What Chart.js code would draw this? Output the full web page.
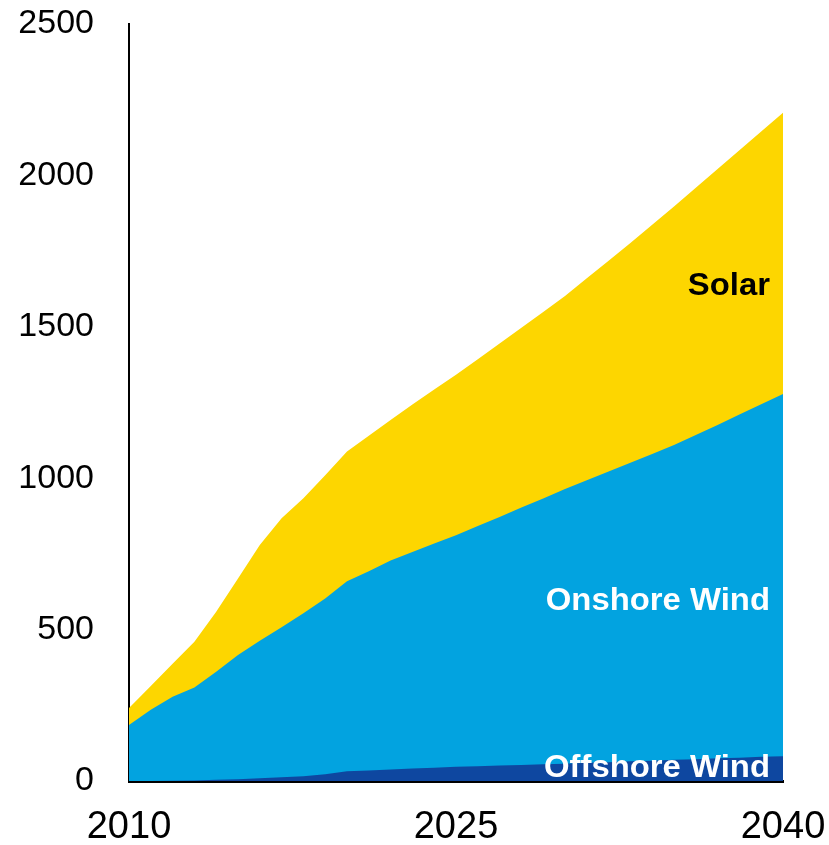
<!DOCTYPE html>
<html>
<head>
<meta charset="utf-8">
<script src="https://cdn.jsdelivr.net/npm/chart.js@4.4.1/dist/chart.umd.min.js"></script>
<style>
  html, body { margin: 0; padding: 0; background: #fff; }
  #wrap { width: 829px; height: 845px; }
</style>
</head>
<body>
<div id="wrap"><canvas id="chart"></canvas></div>
<script>
// years on the x axis, only these three get a label
const years = [];
for (let y = 2010; y <= 2040; y++) years.push(String(y));
const tickYears = ['2010', '2025', '2040'];
const yTicks = [0, 500, 1000, 1500, 2000, 2500];

// capacity per technology (stacked)
const offshoreWind = [0, 0, 1, 2, 4, 6, 9, 12, 16, 22, 32, 35, 38, 41, 44, 47,
  49, 51, 53, 55, 57, 60, 62, 65, 67, 70, 72, 75, 77, 80, 82];
const onshoreWind = [185, 235, 277, 307, 357, 410, 454, 496, 538, 581, 628, 658, 690, 715, 740, 765,
  793, 821, 850, 878, 907, 933, 960, 986, 1013, 1040, 1071, 1101, 1133, 1164, 1196];
const solar = [56, 79, 109, 151, 198, 253, 316, 360, 380, 407, 428, 447, 464, 487, 509, 530,
  551, 573, 594, 616, 638, 667, 696, 726, 757, 787, 816, 845, 873, 901, 929];

const seriesLabels = [
  { text: 'Solar', value: 1633, color: '#000' },
  { text: 'Onshore Wind', value: 594, color: '#fff' },
  { text: 'Offshore Wind', value: 41, color: '#fff' }
];

// labels sit inside the areas, right aligned, slightly wide like the original
const areaLabels = {
  id: 'areaLabels',
  afterDatasetsDraw(chart) {
    const { ctx, chartArea, scales } = chart;
    const sx = 1.06;
    ctx.save();
    ctx.font = 'bold 31px "Liberation Sans", Arial, sans-serif';
    ctx.textAlign = 'right';
    ctx.textBaseline = 'middle';
    seriesLabels.forEach(l => {
      ctx.save();
      ctx.translate(chartArea.right - 13, scales.y.getPixelForValue(l.value));
      ctx.scale(sx, 1);
      ctx.fillStyle = l.color;
      ctx.fillText(l.text, 0, 0);
      ctx.restore();
    });
    ctx.restore();
  }
};

const area = (label, data, color) => ({
  label, data,
  backgroundColor: color,
  borderWidth: 0,
  pointRadius: 0,
  tension: 0,
  fill: true
});

new Chart(document.getElementById('chart'), {
  type: 'line',
  data: {
    labels: years,
    datasets: [
      area('Offshore Wind', offshoreWind, '#0E47A0'),
      area('Onshore Wind', onshoreWind, '#02A3E0'),
      area('Solar', solar, '#FDD600')
    ]
  },
  options: {
    responsive: true,
    maintainAspectRatio: false,
    animation: false,
    layout: { padding: { top: 24, right: 46, left: 0, bottom: 0 } },
    plugins: { legend: { display: false }, tooltip: { enabled: false } },
    scales: {
      x: {
        offset: false,
        grid: { display: false, drawTicks: false },
        border: { color: '#000', width: 3 },
        ticks: {
          autoSkip: false,
          maxRotation: 0,
          color: '#000',
          padding: 24,
          font: { family: '"Liberation Sans", Arial, sans-serif', size: 38 },
          callback(v) {
            const lab = this.getLabelForValue(v);
            return tickYears.includes(lab) ? lab : '';
          }
        },
        afterFit(scale) {
          scale.height = 64;
          scale.paddingLeft = 0;
          scale.paddingRight = 0;
        }
      },
      y: {
        stacked: true,
        min: 0,
        max: 2500,
        grid: { display: false, drawTicks: false },
        border: { color: '#000', width: 2 },
        afterBuildTicks(scale) { scale.ticks = yTicks.map(v => ({ value: v })); },
        ticks: {
          color: '#000',
          padding: 35,
          font: { family: '"Liberation Sans", Arial, sans-serif', size: 34 },
          callback: v => String(v)
        },
        afterFit(scale) {
          scale.width = 129;
          scale.paddingTop = 0;
          scale.paddingBottom = 0;
        }
      }
    }
  },
  plugins: [areaLabels]
});
</script>
</body>
</html>
